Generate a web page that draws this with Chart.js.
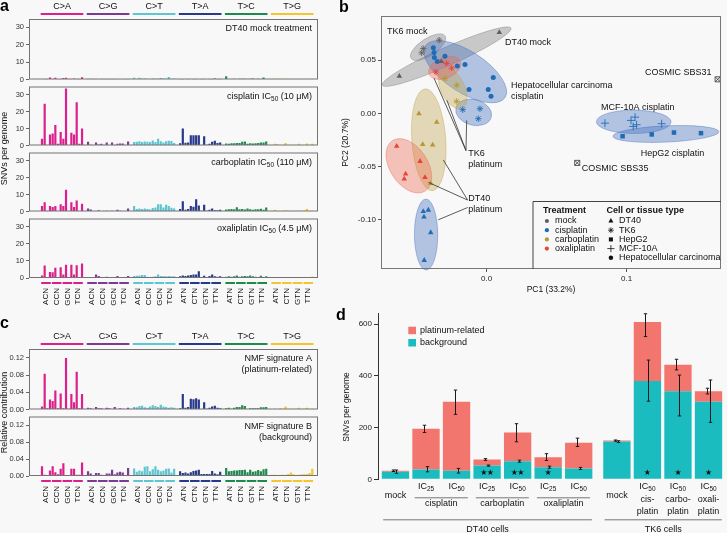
<!DOCTYPE html>
<html>
<head>
<meta charset="utf-8">
<script src="https://cdn.jsdelivr.net/npm/chart.js@4.4.1/dist/chart.umd.min.js"></script>
<style>
  body { margin: 0; background: #f8f8f8; width: 727px; height: 533px; overflow: hidden; position: relative; }
  canvas { position: absolute; }
  .panel-letter { position: absolute; font: bold 16px "Liberation Sans", Arial, sans-serif; color: #000; line-height: 1; }
</style>
</head>
<body>
<canvas id="overlay" width="727" height="533" style="left:0px;top:0px"></canvas>
<canvas id="a1" width="325" height="86" style="left:0px;top:0px"></canvas>
<canvas id="a2" width="325" height="72" style="left:0px;top:80px"></canvas>
<canvas id="a3" width="325" height="72" style="left:0px;top:146px"></canvas>
<canvas id="a4" width="325" height="100" style="left:0px;top:212px"></canvas>
<canvas id="c1" width="325" height="86" style="left:0px;top:330px"></canvas>
<canvas id="c2" width="325" height="96" style="left:0px;top:410px"></canvas>
<canvas id="pb" width="389" height="300" style="left:338px;top:0px"></canvas>
<canvas id="pd" width="389" height="228" style="left:338px;top:305px"></canvas>
<div class="panel-letter" style="left:0px;top:-2px">a</div>
<div class="panel-letter" style="left:339px;top:-1px">b</div>
<div class="panel-letter" style="left:0px;top:315px">c</div>
<div class="panel-letter" style="left:336px;top:307px">d</div>
<script>
const FONT = '"Liberation Sans", Arial, Helvetica, sans-serif';
Chart.defaults.font.family = FONT;

// ---- panel a / c : 96-channel spectra ----
const mutationClasses = ['C>A', 'C>G', 'C>T', 'T>A', 'T>C', 'T>G'];
const contextsC = ['ACN', 'CCN', 'GCN', 'TCN'];
const contextsT = ['ATN', 'CTN', 'GTN', 'TTN'];
const classColors = ['#dc1f8c', '#7b3a93', '#5cc6d2', '#27398b', '#1d8b4d', '#f4c52c'];

const dt40Mock = [
  0.3, 0.1, 0.1, 1.2, 0.2, 1.0, 0.1, 0.2, 0.8, 1.0, 0.1, 0.2, 0.6, 0.2, 0.1, 1.3,
  0.1, 0.5, 0.1, 0.2, 0.3, 0.1, 0.2, 0.1, 0.2, 0.1, 0.2, 0.1, 0.3, 0.1, 0.2, 0.1,
  1.0, 0.3, 1.0, 0.4, 0.6, 0.5, 0.3, 0.6, 0.5, 0.4, 0.8, 0.6, 0.4, 1.5, 0.4, 0.4,
  0.2, 0.1, 0.3, 0.1, 0.3, 0.2, 0.1, 0.3, 0.2, 0.1, 0.3, 0.2, 0.1, 0.6, 0.2, 0.1,
  1.8, 0.3, 0.3, 0.4, 0.3, 0.4, 0.5, 0.4, 0.3, 0.4, 0.6, 0.3, 0.4, 0.3, 1.2, 0.3,
  0.2, 0.1, 0.6, 0.1, 0.1, 0.4, 0.1, 0.1, 0.1, 0.1, 0.2, 0.1, 0.1, 0.2, 0.3, 0.1
];
const dt40Cisplatin = [
  4.0, 24.5, 0.3, 6.5, 7.0, 12.0, 1.0, 8.0, 4.0, 33.5, 0.3, 7.5, 6.5, 25.5, 1.0, 10.0,
  2.2, 0.4, 0.2, 1.8, 0.6, 1.0, 0.2, 1.8, 0.3, 1.7, 0.2, 1.0, 1.2, 1.2, 0.3, 2.3,
  2.0, 2.2, 2.5, 2.0, 2.4, 2.2, 2.0, 3.0, 2.1, 4.0, 2.5, 1.8, 2.5, 2.8, 2.6, 1.5,
  1.3, 10.0, 1.6, 1.8, 6.0, 6.0, 6.0, 6.0, 0.3, 5.5, 0.4, 1.0, 2.2, 2.8, 1.5, 1.7,
  1.2, 1.0, 1.3, 1.3, 1.5, 1.5, 2.2, 2.3, 1.0, 1.3, 1.2, 1.3, 1.4, 1.7, 1.8, 2.3,
  0.3, 1.0, 0.8, 0.3, 0.1, 1.5, 0.2, 0.3, 0.5, 0.3, 1.0, 0.2, 0.3, 1.2, 0.3, 1.0
];
const dt40Carboplatin = [
  3.3, 5.5, 0.2, 3.3, 2.7, 3.3, 0.3, 4.2, 3.3, 12.8, 0.3, 5.5, 2.7, 6.5, 0.3, 4.6,
  1.8, 1.2, 0.3, 0.3, 0.8, 0.3, 0.2, 0.4, 0.3, 0.4, 0.3, 1.0, 0.4, 0.3, 0.3, 1.8,
  3.3, 1.5, 1.8, 1.5, 1.8, 1.5, 1.2, 2.0, 2.4, 4.2, 4.3, 2.3, 4.0, 3.2, 2.2, 1.8,
  1.5, 6.0, 1.0, 1.5, 3.3, 2.8, 7.2, 3.5, 0.4, 4.0, 0.5, 1.0, 1.8, 0.8, 0.7, 1.0,
  1.2, 1.3, 1.5, 1.3, 2.5, 1.3, 1.5, 1.2, 1.8, 1.3, 1.0, 1.3, 1.3, 1.6, 1.0, 2.3,
  0.3, 1.0, 0.2, 0.3, 0.2, 0.8, 0.2, 0.2, 0.2, 0.4, 0.5, 0.3, 0.6, 1.6, 0.2, 0.4
];
const dt40Oxaliplatin = [
  1.5, 7.3, 0.2, 3.5, 3.3, 6.0, 0.3, 6.3, 2.0, 7.8, 0.2, 7.8, 2.0, 7.5, 0.3, 8.5,
  0.5, 0.5, 0.3, 2.0, 1.2, 0.2, 0.2, 0.8, 0.2, 0.5, 0.3, 1.2, 0.3, 0.5, 0.3, 1.2,
  1.2, 1.3, 1.5, 1.7, 1.8, 0.8, 0.5, 0.8, 1.0, 2.0, 1.2, 1.2, 1.0, 1.2, 1.0, 1.0,
  1.0, 1.5, 1.2, 1.5, 1.8, 2.0, 2.0, 4.0, 0.4, 1.3, 0.5, 1.2, 2.0, 1.0, 0.7, 1.0,
  0.8, 1.0, 0.8, 1.0, 1.5, 0.8, 1.0, 1.2, 1.0, 1.5, 1.0, 0.8, 0.5, 1.3, 0.3, 1.0,
  0.3, 0.2, 0.2, 0.2, 0.1, 0.3, 0.2, 0.3, 0.2, 0.4, 0.3, 0.2, 0.4, 0.5, 0.2, 0.9
];
const nmfSignatureA = [
  0.007, 0.083, 0.003, 0.023, 0.020, 0.044, 0.003, 0.037, 0.003, 0.120, 0.002, 0.036, 0.017, 0.088, 0.003, 0.036,
  0.004, 0.003, 0.001, 0.006, 0.003, 0.003, 0.001, 0.004, 0.003, 0.001, 0.006, 0.001, 0.003, 0.002, 0.001, 0.004,
  0.006, 0.005, 0.008, 0.009, 0.005, 0.004, 0.007, 0.010, 0.008, 0.006, 0.011, 0.007, 0.006, 0.004, 0.005, 0.004,
  0.003, 0.036, 0.004, 0.006, 0.025, 0.024, 0.026, 0.023, 0.001, 0.017, 0.002, 0.004, 0.007, 0.009, 0.004, 0.003,
  0.003, 0.004, 0.002, 0.004, 0.006, 0.006, 0.010, 0.008, 0.001, 0.003, 0.003, 0.003, 0.003, 0.005, 0.005, 0.006,
  0.001, 0.002, 0.001, 0.003, 0.001, 0.007, 0.001, 0.002, 0.001, 0.002, 0.004, 0.001, 0.002, 0.004, 0.001, 0.002
];
const nmfSignatureB = [
  0.023, 0.003, 0.001, 0.013, 0.023, 0.009, 0.004, 0.017, 0.030, 0.002, 0.001, 0.017, 0.017, 0.003, 0.003, 0.032,
  0.011, 0.006, 0.001, 0.007, 0.007, 0.003, 0.001, 0.006, 0.006, 0.015, 0.004, 0.008, 0.010, 0.008, 0.002, 0.019,
  0.018, 0.010, 0.013, 0.011, 0.022, 0.023, 0.011, 0.016, 0.023, 0.015, 0.011, 0.013, 0.017, 0.018, 0.008, 0.017,
  0.011, 0.007, 0.008, 0.006, 0.009, 0.012, 0.013, 0.015, 0.005, 0.005, 0.005, 0.005, 0.012, 0.006, 0.004, 0.010,
  0.019, 0.011, 0.012, 0.013, 0.013, 0.014, 0.014, 0.015, 0.009, 0.015, 0.010, 0.011, 0.014, 0.011, 0.016, 0.017,
  0.003, 0.003, 0.002, 0.003, 0.003, 0.003, 0.005, 0.008, 0.004, 0.002, 0.003, 0.004, 0.004, 0.005, 0.007, 0.017
];
const snvTicks = [0, 10, 20, 30];
const contributionTicks = [0, 0.02, 0.04, 0.06, 0.08, 0.10, 0.12];

// ---- panel b : PCA ----
const pcaCellType = [
  'DT40', 'DT40', 'DT40', 'TK6', 'TK6', 'TK6',
  'HCC', 'HCC', 'HCC', 'HCC', 'HCC', 'HCC', 'HCC', 'HCC', 'HCC', 'HCC', 'HCC',
  'TK6', 'TK6', 'TK6', 'DT40', 'DT40', 'DT40', 'DT40', 'DT40',
  'MCF-10A', 'MCF-10A', 'MCF-10A', 'MCF-10A', 'MCF-10A', 'MCF-10A',
  'HepG2', 'HepG2', 'HepG2', 'HepG2',
  'TK6', 'TK6', 'TK6', 'DT40', 'DT40', 'DT40', 'DT40', 'DT40',
  'TK6', 'TK6', 'TK6', 'DT40', 'DT40', 'DT40', 'DT40', 'DT40'
];
const pcaTreatment = [
  'mock', 'mock', 'mock', 'mock', 'mock', 'mock',
  'cisplatin', 'cisplatin', 'cisplatin', 'cisplatin', 'cisplatin', 'cisplatin', 'cisplatin', 'cisplatin', 'cisplatin', 'cisplatin', 'cisplatin',
  'cisplatin', 'cisplatin', 'cisplatin', 'cisplatin', 'cisplatin', 'cisplatin', 'cisplatin', 'cisplatin',
  'cisplatin', 'cisplatin', 'cisplatin', 'cisplatin', 'cisplatin', 'cisplatin',
  'cisplatin', 'cisplatin', 'cisplatin', 'cisplatin',
  'carboplatin', 'carboplatin', 'carboplatin', 'carboplatin', 'carboplatin', 'carboplatin', 'carboplatin', 'carboplatin',
  'oxaliplatin', 'oxaliplatin', 'oxaliplatin', 'oxaliplatin', 'oxaliplatin', 'oxaliplatin', 'oxaliplatin', 'oxaliplatin'
];
const pcaPC1 = [
  0.009, -0.0624, -0.0324, -0.0464, -0.0453, -0.0339,
  -0.0381, -0.0376, -0.0374, -0.0298, -0.0353, -0.0210, -0.0155, 0.0047, -0.0126, 0.0011, 0.0031,
  -0.0171, -0.0048, -0.0060, -0.0453, -0.0417, -0.0448, -0.0400, -0.0446,
  0.0845, 0.1031, 0.1060, 0.1047, 0.1071, 0.1250,
  0.0971, 0.1179, 0.1338, 0.1531,
  -0.0298, -0.0214, -0.0214, -0.0484, -0.0357, -0.0457, -0.0386, -0.0400,
  -0.0286, -0.0250, -0.0362, -0.0643, -0.0476, -0.0579, -0.0589, -0.0441
];
const pcaPC2 = [
  0.0763, 0.0350, 0.0490, 0.0570, 0.0610, 0.0690,
  0.0617, 0.0574, 0.0526, 0.0539, 0.0489, 0.0447, 0.0460, 0.0337, 0.0224, 0.0224, 0.0161,
  0.0035, 0.0044, -0.0050, -0.0923, -0.0910, -0.0974, -0.1122, -0.1383,
  -0.0092, -0.0066, -0.0035, -0.0123, -0.0107, -0.0097,
  -0.0215, -0.0198, -0.0180, -0.0186,
  0.0328, 0.0265, 0.0113, -0.0003, -0.0082, -0.0293, -0.0296, -0.0659,
  0.0470, 0.0428, 0.0390, -0.0309, -0.0451, -0.0570, -0.0617, -0.0602
];
const cosmicPC1 = [0.165, 0.0647];
const cosmicPC2 = [0.0321, -0.0466];
const pc1Ticks = [0, 0.1];
const pc2Ticks = [-0.10, -0.05, 0, 0.05];
const treatments = ['mock', 'cisplatin', 'carboplatin', 'oxaliplatin'];
const treatmentColors = { mock: '#606060', cisplatin: '#1f6cb4', carboplatin: '#b8972e', oxaliplatin: '#e8443a' };
const ellipseFills = { mock: '120,120,120', cisplatin: '60,105,190', carboplatin: '190,160,70', oxaliplatin: '235,100,75' };
const cellTypes = ['DT40', 'TK6', 'HepG2', 'MCF-10A', 'HCC'];
const cellTypeNames = ['DT40', 'TK6', 'HepG2', 'MCF-10A', 'Hepatocellular carcinoma'];
const cellPointStyle = {
  'DT40': { pointStyle: 'triangle', radius: 3.2, bw: 0 },
  'TK6': { pointStyle: 'star', radius: 3.2, bw: 0.9 },
  'HepG2': { pointStyle: 'rect', radius: 3.2, bw: 0 },
  'MCF-10A': { pointStyle: 'cross', radius: 4, bw: 0.9 },
  'HCC': { pointStyle: 'circle', radius: 2.5, bw: 0 }
};
const pcaTextLabels = [
  { lines: ['TK6 mock'], x: -0.0712, y: 0.0775, align: 'left' },
  { lines: ['DT40 mock'], x: 0.0131, y: 0.0671, align: 'left' },
  { lines: ['Hepatocellular carcinoma', 'cisplatin'], x: 0.0174, y: 0.0265, align: 'left' },
  { lines: ['COSMIC SBS31'], x: 0.1607, y: 0.0381, align: 'right' },
  { lines: ['MCF-10A cisplatin'], x: 0.0816, y: 0.006, align: 'left' },
  { lines: ['HepG2 cisplatin'], x: 0.110, y: -0.0375, align: 'left' },
  { lines: ['COSMIC SBS35'], x: 0.068, y: -0.0523, align: 'left' },
  { lines: ['TK6', 'platinum'], x: -0.0131, y: -0.0381, align: 'left' },
  { lines: ['DT40', 'platinum'], x: -0.0131, y: -0.0797, align: 'left' }
];
const pcaLeaders = [
  [-0.0148, -0.035, -0.0376, 0.0331],
  [-0.0148, -0.035, -0.0284, 0.0123],
  [-0.0148, -0.035, -0.0143, -0.0066],
  [-0.0136, -0.0816, -0.0310, -0.0438],
  [-0.0136, -0.0816, -0.0417, -0.0649],
  [-0.0136, -0.0886, -0.0346, -0.1002]
];

// ---- panel d : SNVs per genome ----
const doseLabels = ['mock', 'IC25', 'IC50', 'IC25', 'IC50', 'IC25', 'IC50', 'mock', 'IC50', 'IC50', 'IC50'];
const barCell = ['DT40', 'DT40', 'DT40', 'DT40', 'DT40', 'DT40', 'DT40', 'TK6', 'TK6', 'TK6', 'TK6'];
const cellNames = ['DT40', 'TK6'];
const cellGroupLabels = ['DT40 cells', 'TK6 cells'];
const drugNames = ['cisplatin', 'carboplatin', 'oxaliplatin'];
const drugFirstBar = [1, 3, 5];
const tk6DrugLines = [null, null, null, null, null, null, null, null, ['cis-', 'platin'], ['carbo-', 'platin'], ['oxali-', 'platin']];
const background = [29, 38, 33, 53, 70, 47, 42, 146, 380, 340, 300];
const platinumRelated = [4, 157, 267, 24, 111, 38, 99, 4, 228, 103, 40];
const totalErrLow = [30, 181, 251, 73, 145, 73, 127, 147, 552, 423, 330];
const totalErrHigh = [36, 209, 345, 80, 215, 99, 159, 152, 640, 464, 352];
const bgErrLow = [23, 29, 24, 51, 66, 43, 38, 142, 302, 245, 220];
const bgErrHigh = [36, 49, 42, 55, 74, 51, 46, 149, 461, 403, 384];
const significanceStars = [0, 0, 0, 2, 2, 1, 0, 0, 1, 1, 1];
const snvTicksD = [0, 200, 400, 600];

// ---------- helpers ----------
function drawRich(ctx, parts, x, y, align, size) {
  const fontOf = sub => (sub ? size * 0.72 : size) + 'px ' + FONT;
  let w = 0;
  parts.forEach(p => { ctx.font = fontOf(p[1]); w += ctx.measureText(p[0]).width; });
  let cx = align === 'right' ? x - w : align === 'center' ? x - w / 2 : x;
  ctx.textAlign = 'left';
  parts.forEach(p => {
    ctx.font = fontOf(p[1]);
    ctx.fillText(p[0], cx, p[1] ? y + size * 0.32 : y);
    cx += ctx.measureText(p[0]).width;
  });
}
function icParts(label) {
  return label.startsWith('IC') ? [['IC'], [label.slice(2), 1]] : [[label]];
}

const GROUP_GAP = 1.25;
function barX(k) { return k + GROUP_GAP * Math.floor(k / 16); }

function drawSpectrumDeco(chart, opts) {
  const ctx = chart.ctx, a = chart.chartArea, xs = chart.scales.x;
  ctx.save();
  ctx.strokeStyle = '#737373';
  ctx.lineWidth = 1;
  ctx.strokeRect(a.left + 0.5, a.top + 0.5, a.right - a.left - 1, a.bottom - a.top - 1);
  ctx.fillStyle = '#111';
  ctx.textBaseline = 'middle';
  opts.label.forEach((parts, li) => drawRich(ctx, parts, a.right - 6, a.top + 10 + li * 11, 'right', 9));
  for (let g = 0; g < 6; g++) {
    const x1 = xs.getPixelForValue(barX(16 * g)) - 1.3;
    const x2 = xs.getPixelForValue(barX(16 * g + 15)) + 1.3;
    if (opts.header) {
      ctx.fillStyle = classColors[g];
      ctx.fillRect(x1, a.top - 6, x2 - x1, 2);
      ctx.fillStyle = '#111';
      ctx.font = '9px ' + FONT;
      ctx.textAlign = 'center';
      ctx.fillText(mutationClasses[g], (x1 + x2) / 2, a.top - 12);
    }
    if (opts.footer) {
      for (let s = 0; s < 4; s++) {
        const s1 = xs.getPixelForValue(barX(16 * g + 4 * s)) - 0.8;
        const s2 = xs.getPixelForValue(barX(16 * g + 4 * s + 3)) + 0.8;
        ctx.fillStyle = classColors[g];
        ctx.fillRect(s1, a.bottom + 4, s2 - s1, 2);
        ctx.save();
        ctx.translate((s1 + s2) / 2, a.bottom + 10);
        ctx.rotate(-Math.PI / 2);
        ctx.fillStyle = '#111';
        ctx.font = '8px ' + FONT;
        ctx.textAlign = 'right';
        ctx.textBaseline = 'middle';
        ctx.fillText((g < 3 ? contextsC : contextsT)[s], 0, 0);
        ctx.restore();
      }
    }
  }
  ctx.restore();
}

function spectrumChart(id, values, opts) {
  return new Chart(document.getElementById(id), {
    type: 'bar',
    data: {
      datasets: [{
        data: values.map((v, k) => ({ x: barX(k), y: v })),
        backgroundColor: values.map((v, k) => classColors[Math.floor(k / 16)]),
        categoryPercentage: 1,
        barPercentage: 0.82
      }]
    },
    options: {
      responsive: false,
      animation: false,
      events: [],
      layout: { padding: { top: opts.padTop, bottom: opts.padBottom, left: 0, right: 7 } },
      plugins: { legend: { display: false }, tooltip: { enabled: false } },
      scales: {
        x: { type: 'linear', display: false, min: -4.87, max: 103.4, offset: false },
        y: {
          min: 0, max: opts.yMax,
          afterFit: s => { s.width = 29; },
          afterBuildTicks: s => { s.ticks = opts.ticks.map(v => ({ value: v })); },
          grid: { drawOnChartArea: false, drawTicks: true, tickLength: 3, color: '#666' },
          border: { display: false },
          ticks: { font: { size: 7.5 }, color: '#333', padding: 2, callback: opts.fmt }
        }
      }
    },
    plugins: [{ id: 'spectrumDeco', afterDraw: chart => drawSpectrumDeco(chart, opts) }]
  });
}

const snvFmt = v => String(v);
const contribFmt = v => v.toFixed(2);
spectrumChart('a1', dt40Mock, { padTop: 19, padBottom: 6, yMax: 34.7, ticks: snvTicks, fmt: snvFmt, header: true,
  label: [[['DT40 mock treatment']]] });
spectrumChart('a2', dt40Cisplatin, { padTop: 6, padBottom: 6, yMax: 34.7, ticks: snvTicks, fmt: snvFmt,
  label: [[['cisplatin IC'], ['50', 1], [' (10 μM)']]] });
spectrumChart('a3', dt40Carboplatin, { padTop: 6, padBottom: 6, yMax: 34.7, ticks: snvTicks, fmt: snvFmt,
  label: [[['carboplatin IC'], ['50', 1], [' (110 μM)']]] });
spectrumChart('a4', dt40Oxaliplatin, { padTop: 6, padBottom: 34, yMax: 34.7, ticks: snvTicks, fmt: snvFmt, footer: true,
  label: [[['oxaliplatin IC'], ['50', 1], [' (4.5 μM)']]] });
spectrumChart('c1', nmfSignatureA, { padTop: 19, padBottom: 6, yMax: 0.1408, ticks: contributionTicks, fmt: contribFmt, header: true,
  label: [[['NMF signature A']], [['(platinum-related)']]] });
spectrumChart('c2', nmfSignatureB, { padTop: 6, padBottom: 30, yMax: 0.1408, ticks: contributionTicks, fmt: contribFmt, footer: true,
  label: [[['NMF signature B']], [['(background)']]] });

// y titles for a and c
(function () {
  const ctx = document.getElementById('overlay').getContext('2d');
  ctx.fillStyle = '#111';
  ctx.font = '9px ' + FONT;
  ctx.textAlign = 'center';
  ctx.textBaseline = 'middle';
  [['SNVs per genome', 148.5], ['Relative contribution', 412.5]].forEach(([t, y]) => {
    ctx.save(); ctx.translate(5, y); ctx.rotate(-Math.PI / 2); ctx.fillText(t, 0, 0); ctx.restore();
  });
})();

// ---------- panel b ----------
function mvee(pts) {
  const n = pts.length;
  const mx = pts.reduce((s, p) => s + p[0], 0) / n, my = pts.reduce((s, p) => s + p[1], 0) / n;
  const P = pts.map(p => [p[0] - mx, p[1] - my]);
  let u = new Array(n).fill(1 / n);
  for (let it = 0; it < 2000; it++) {
    const X = [[0, 0, 0], [0, 0, 0], [0, 0, 0]];
    P.forEach((p, i) => {
      const q = [p[0], p[1], 1];
      for (let r = 0; r < 3; r++) for (let c = 0; c < 3; c++) X[r][c] += u[i] * q[r] * q[c];
    });
    const Xi = inv3(X);
    const M = P.map(p => {
      const q = [p[0], p[1], 1];
      let s = 0;
      for (let r = 0; r < 3; r++) for (let c = 0; c < 3; c++) s += q[r] * Xi[r][c] * q[c];
      return s;
    });
    let j = 0;
    M.forEach((m, i) => { if (m > M[j]) j = i; });
    const step = (M[j] - 3) / (3 * (M[j] - 1));
    const nu = u.map(v => v * (1 - step));
    nu[j] += step;
    const err = Math.sqrt(nu.reduce((s, v, i) => s + (v - u[i]) ** 2, 0));
    u = nu;
    if (err < 1e-7) break;
  }
  let cx = 0, cy = 0;
  P.forEach((p, i) => { cx += u[i] * p[0]; cy += u[i] * p[1]; });
  let sxx = 0, syy = 0, sxy = 0;
  P.forEach((p, i) => { sxx += u[i] * p[0] * p[0]; syy += u[i] * p[1] * p[1]; sxy += u[i] * p[0] * p[1]; });
  sxx -= cx * cx; syy -= cy * cy; sxy -= cx * cy;
  const m = (sxx + syy) / 2, d = Math.sqrt(((sxx - syy) / 2) ** 2 + sxy * sxy);
  return {
    cx: cx + mx, cy: cy + my,
    a: Math.sqrt(Math.max(2 * (m + d), 0)), b: Math.sqrt(Math.max(2 * (m - d), 0)),
    ang: 0.5 * Math.atan2(2 * sxy, sxx - syy)
  };
}
function inv3(m) {
  const [a, b, c] = m[0], [d, e, f] = m[1], [g, h, i] = m[2];
  const A = e * i - f * h, B = -(d * i - f * g), C = d * h - e * g;
  const det = a * A + b * B + c * C;
  return [
    [A / det, -(b * i - c * h) / det, (b * f - c * e) / det],
    [B / det, (a * i - c * g) / det, -(a * f - c * d) / det],
    [C / det, -(a * h - b * g) / det, (a * e - b * d) / det]
  ];
}

const pcaGroups = [];
pcaCellType.forEach((cell, i) => {
  const key = cell + '|' + pcaTreatment[i];
  let g = pcaGroups.find(x => x.key === key);
  if (!g) { g = { key, cell, treatment: pcaTreatment[i], idx: [] }; pcaGroups.push(g); }
  g.idx.push(i);
});

const pcaDatasets = pcaGroups.map(g => {
  const st = cellPointStyle[g.cell];
  const col = treatmentColors[g.treatment];
  return {
    data: g.idx.map(i => ({ x: pcaPC1[i], y: pcaPC2[i] })),
    pointStyle: st.pointStyle, pointRadius: st.radius,
    pointBackgroundColor: col, pointBorderColor: col, pointBorderWidth: st.bw
  };
});
pcaDatasets.push({
  data: cosmicPC1.map((v, i) => ({ x: v, y: cosmicPC2[i] })),
  pointStyle: 'rect', pointRadius: 3.6, pointBackgroundColor: 'rgba(0,0,0,0)', pointBorderColor: '#333', pointBorderWidth: 0.8
});
pcaDatasets.push({
  data: cosmicPC1.map((v, i) => ({ x: v, y: cosmicPC2[i] })),
  pointStyle: 'crossRot', pointRadius: 3.4, pointBorderColor: '#333', pointBorderWidth: 0.8
});

function legendMarker(ctx, style, x, y) {
  const st = cellPointStyle[style];
  Chart.helpers.drawPoint(ctx, {
    pointStyle: st.pointStyle, radius: st.radius * 0.9, rotation: 0, borderWidth: st.bw || 0
  }, x, y);
}

const pcaDeco = {
  id: 'pcaDeco',
  beforeDatasetsDraw(chart) {
    const ctx = chart.ctx, xs = chart.scales.x, ys = chart.scales.y;
    ctx.save();
    pcaGroups.forEach(g => {
      const pts = g.idx.map(i => [xs.getPixelForValue(pcaPC1[i]), ys.getPixelForValue(pcaPC2[i])]);
      const e = mvee(pts);
      const rgb = ellipseFills[g.treatment];
      ctx.beginPath();
      ctx.ellipse(e.cx, e.cy, e.a + 7, e.b + 7, e.ang, 0, Math.PI * 2);
      ctx.fillStyle = 'rgba(' + rgb + ',0.37)';
      ctx.fill();
      ctx.strokeStyle = 'rgba(' + rgb + ',0.5)';
      ctx.lineWidth = 0.8;
      ctx.stroke();
    });
    ctx.restore();
  },
  afterDraw(chart) {
    const ctx = chart.ctx, a = chart.chartArea, xs = chart.scales.x, ys = chart.scales.y;
    ctx.save();
    ctx.strokeStyle = '#777';
    ctx.lineWidth = 1;
    ctx.strokeRect(a.left + 0.5, a.top + 0.5, a.right - a.left - 1, a.bottom - a.top - 1);
    // leader lines
    ctx.strokeStyle = '#333';
    ctx.lineWidth = 0.8;
    pcaLeaders.forEach(l => {
      ctx.beginPath();
      ctx.moveTo(xs.getPixelForValue(l[0]), ys.getPixelForValue(l[1]));
      ctx.lineTo(xs.getPixelForValue(l[2]), ys.getPixelForValue(l[3]));
      ctx.stroke();
    });
    // text labels
    ctx.fillStyle = '#111';
    ctx.font = '9px ' + FONT;
    ctx.textBaseline = 'middle';
    pcaTextLabels.forEach(t => {
      ctx.textAlign = t.align;
      t.lines.forEach((line, li) => ctx.fillText(line, xs.getPixelForValue(t.x), ys.getPixelForValue(t.y) + li * 11));
    });
    // axis titles
    ctx.textAlign = 'center';
    ctx.font = '8.5px ' + FONT;
    ctx.fillText('PC1 (33.2%)', (a.left + a.right) / 2, a.bottom + 21);
    ctx.save();
    ctx.translate(8, (a.top + a.bottom) / 2);
    ctx.rotate(-Math.PI / 2);
    ctx.fillText('PC2 (20.7%)', 0, 0);
    ctx.restore();
    // legend
    const L = a.right - 188.5, T = a.bottom - 68;
    ctx.fillStyle = '#f8f8f8';
    ctx.fillRect(L, T, a.right - L - 1, a.bottom - T - 1);
    ctx.strokeStyle = '#444';
    ctx.lineWidth = 1;
    ctx.beginPath();
    ctx.moveTo(L + 0.5, a.bottom);
    ctx.lineTo(L + 0.5, T + 0.5);
    ctx.lineTo(a.right, T + 0.5);
    ctx.stroke();
    ctx.fillStyle = '#111';
    ctx.textAlign = 'left';
    ctx.font = 'bold 9px ' + FONT;
    ctx.fillText('Treatment', L + 10.5, T + 10);
    ctx.fillText('Cell or tissue type', L + 74, T + 10);
    ctx.font = '9px ' + FONT;
    treatments.forEach((t, i) => {
      const y = T + 20 + i * 9.2;
      ctx.fillStyle = treatmentColors[t];
      ctx.beginPath(); ctx.arc(L + 14.4, y, 2.1, 0, Math.PI * 2); ctx.fill();
      ctx.fillStyle = '#111';
      ctx.fillText(t, L + 22.5, y);
    });
    cellTypes.forEach((c, i) => {
      const y = T + 20 + i * 9.2;
      ctx.fillStyle = '#111';
      ctx.strokeStyle = '#111';
      ctx.lineWidth = 0.8;
      legendMarker(ctx, c, L + 78.4, y);
      ctx.fillText(cellTypeNames[i], L + 86.5, y);
    });
    ctx.restore();
  }
};

new Chart(document.getElementById('pb'), {
  type: 'scatter',
  data: { datasets: pcaDatasets },
  options: {
    responsive: false, animation: false, events: [],
    layout: { padding: { top: 16, right: 6, left: 0, bottom: 0 } },
    plugins: { legend: { display: false }, tooltip: { enabled: false } },
    scales: {
      x: {
        type: 'linear', min: -0.0755, max: 0.1674,
        afterFit: s => { s.height = 31; },
        afterBuildTicks: s => { s.ticks = pc1Ticks.map(v => ({ value: v })); },
        grid: { drawOnChartArea: false, drawTicks: true, tickLength: 3, color: '#555' },
        border: { display: false },
        ticks: { font: { size: 8 }, color: '#222', padding: 2, maxRotation: 0, callback: v => v.toFixed(1) }
      },
      y: {
        type: 'linear', min: -0.1465, max: 0.0917,
        afterFit: s => { s.width = 43; },
        afterBuildTicks: s => { s.ticks = pc2Ticks.map(v => ({ value: v })); },
        grid: { drawOnChartArea: false, drawTicks: true, tickLength: 3, color: '#555' },
        border: { display: false },
        ticks: { font: { size: 8 }, color: '#222', padding: 2, callback: v => v.toFixed(2) }
      }
    }
  },
  plugins: [pcaDeco]
});

// ---------- panel d ----------
const CELL_GAP = 0.25;
function barPosD(i) { return i + CELL_GAP * cellNames.indexOf(barCell[i]); }

const snvDeco = {
  id: 'snvDeco',
  afterDraw(chart) {
    const ctx = chart.ctx, a = chart.chartArea, xs = chart.scales.x, ys = chart.scales.y;
    const B = a.bottom;
    const half = xs.getPixelForValue(barPosD(0) + 0.5) - xs.getPixelForValue(barPosD(0));
    ctx.save();
    // error bars
    ctx.strokeStyle = '#1a1a1a';
    ctx.lineWidth = 1;
    function errBar(x, lo, hi) {
      const y1 = ys.getPixelForValue(lo), y2 = ys.getPixelForValue(hi);
      ctx.beginPath();
      ctx.moveTo(x, y1); ctx.lineTo(x, y2);
      ctx.moveTo(x - 1.7, y1); ctx.lineTo(x + 1.7, y1);
      ctx.moveTo(x - 1.7, y2); ctx.lineTo(x + 1.7, y2);
      ctx.stroke();
    }
    background.forEach((v, i) => {
      const x = Math.round(xs.getPixelForValue(barPosD(i)));
      errBar(x - 1.5, totalErrLow[i], totalErrHigh[i]);
      errBar(x + 1.5, bgErrLow[i], bgErrHigh[i]);
    });
    // significance stars
    ctx.fillStyle = '#111';
    ctx.font = '8px "DejaVu Sans", sans-serif';
    ctx.textAlign = 'center';
    ctx.textBaseline = 'middle';
    significanceStars.forEach((n, i) => {
      const x = xs.getPixelForValue(barPosD(i));
      for (let s = 0; s < n; s++) ctx.fillText('★', x + (s - (n - 1) / 2) * 6.6, B - 6.6);
    });
    // x labels
    ctx.fillStyle = '#111';
    ctx.textBaseline = 'middle';
    doseLabels.forEach((lab, i) => {
      const x = xs.getPixelForValue(barPosD(i));
      drawRich(ctx, icParts(lab), x, lab === 'mock' ? B + 16.7 : B + 7.4, 'center', 9);
      if (tk6DrugLines[i]) {
        ctx.font = '9px ' + FONT;
        ctx.textAlign = 'center';
        tk6DrugLines[i].forEach((t, li) => ctx.fillText(t, x, B + 20.7 + li * 11.7));
      }
    });
    ctx.strokeStyle = '#777';
    ctx.lineWidth = 1;
    drugNames.forEach((name, k) => {
      const x1 = xs.getPixelForValue(barPosD(drugFirstBar[k])) - half + 4;
      const x2 = xs.getPixelForValue(barPosD(drugFirstBar[k] + 1)) + half - 4;
      ctx.beginPath(); ctx.moveTo(x1, B + 18.5); ctx.lineTo(x2, B + 18.5); ctx.stroke();
      ctx.font = '9px ' + FONT;
      ctx.textAlign = 'center';
      ctx.fillText(name, (x1 + x2) / 2, B + 24.5);
    });
    cellNames.forEach((c, k) => {
      const first = barCell.indexOf(c), last = barCell.lastIndexOf(c);
      const x1 = xs.getPixelForValue(barPosD(first)) - half + 3;
      const x2 = xs.getPixelForValue(barPosD(last)) + half - 2;
      ctx.beginPath(); ctx.moveTo(x1, B + 40.5); ctx.lineTo(x2, B + 40.5); ctx.stroke();
      ctx.font = '9px ' + FONT;
      ctx.textAlign = 'center';
      ctx.fillText(cellGroupLabels[k], (x1 + x2) / 2, B + 50);
    });
    // y title
    ctx.font = '8.5px ' + FONT;
    ctx.save();
    ctx.translate(8.5, 102);
    ctx.rotate(-Math.PI / 2);
    ctx.fillText('SNVs per genome', 0, 0);
    ctx.restore();
    // legend
    const L = a.left, T = a.top;
    [1, 0].forEach((di, r) => {
      const ds = chart.data.datasets[di];
      ctx.fillStyle = ds.backgroundColor;
      ctx.fillRect(L + 30.3, T + 13.7 + r * 12.3, 7.7, 7.5);
      ctx.fillStyle = '#111';
      ctx.font = '9px ' + FONT;
      ctx.textAlign = 'left';
      ctx.fillText(ds.label, L + 42, T + 17.6 + r * 12.3);
    });
    ctx.restore();
  }
};

new Chart(document.getElementById('pd'), {
  type: 'bar',
  data: {
    datasets: [
      { label: 'background', data: background.map((v, i) => ({ x: barPosD(i), y: v })), backgroundColor: '#1bbcc0', stack: 's', categoryPercentage: 1, barPercentage: 0.895 },
      { label: 'platinum-related', data: platinumRelated.map((v, i) => ({ x: barPosD(i), y: v })), backgroundColor: '#f2766e', stack: 's', categoryPercentage: 1, barPercentage: 0.895 }
    ]
  },
  options: {
    responsive: false, animation: false, events: [],
    layout: { padding: { top: 8, right: 2, left: 0, bottom: 53.7 } },
    plugins: { legend: { display: false }, tooltip: { enabled: false } },
    scales: {
      x: { type: 'linear', stacked: true, display: false, min: -0.572, max: 10.79, offset: false },
      y: {
        stacked: true, min: 0, max: 643,
        afterFit: s => { s.width = 40; },
        afterBuildTicks: s => { s.ticks = snvTicksD.map(v => ({ value: v })); },
        grid: { drawOnChartArea: false, drawTicks: true, tickLength: 4, color: '#333' },
        border: { display: true, color: '#333', width: 1 },
        ticks: { font: { size: 8 }, color: '#222', padding: 2 }
      }
    }
  },
  plugins: [snvDeco]
});
</script>
</body>
</html>
